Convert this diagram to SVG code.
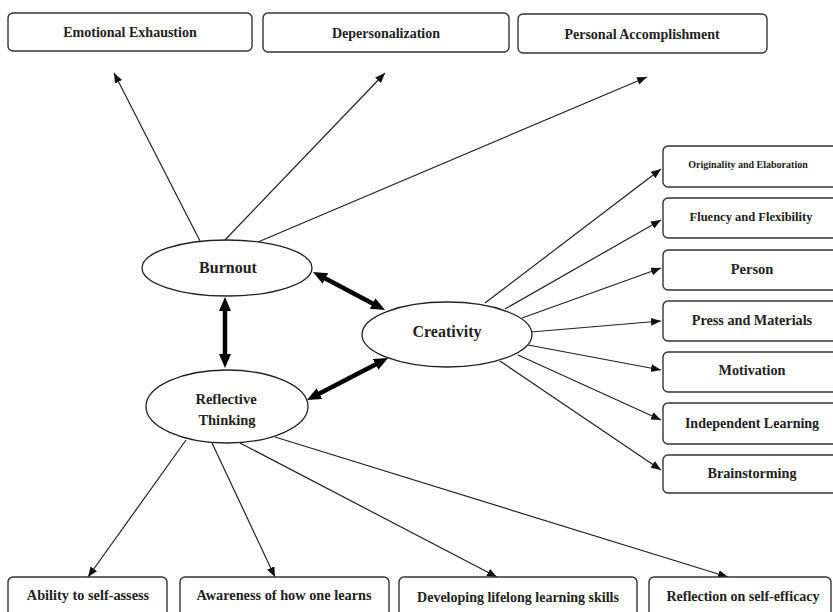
<svg xmlns="http://www.w3.org/2000/svg" width="833" height="612" viewBox="0 0 833 612">
<style>
.box{fill:#fff;stroke:#333;stroke-width:1.4}
.ell{fill:#fff;stroke:#222;stroke-width:1.3}
.t{font-family:"Liberation Serif","Times New Roman",serif;font-weight:bold;fill:#222;text-anchor:middle;dominant-baseline:central}
.ln{stroke:#222;stroke-width:1.2;fill:none;marker-end:url(#ah)}
.thick{stroke:#000;stroke-width:4.5;fill:none;marker-start:url(#th);marker-end:url(#th)}
</style>
<defs>
<marker id="ah" markerUnits="userSpaceOnUse" markerWidth="11" markerHeight="9" refX="10" refY="4" orient="auto" viewBox="0 0 11 9">
<path d="M0,0 L10,4 L0,8 z" fill="#111"/>
</marker>
<marker id="th" markerUnits="userSpaceOnUse" markerWidth="15" markerHeight="13" refX="1" refY="6" orient="auto-start-reverse" viewBox="0 0 15 13">
<path d="M0,0 L14,6 L0,12 z" fill="#000"/>
</marker>
</defs>
<rect width="833" height="612" fill="#fff"/>

<g id="connectors">
<line class="ln" x1="200" y1="241" x2="114" y2="73"/>
<line class="ln" x1="224" y1="241" x2="385" y2="73"/>
<line class="ln" x1="258" y1="242" x2="647" y2="77"/>
<line class="ln" x1="485" y1="303" x2="661" y2="169"/>
<line class="ln" x1="505" y1="309" x2="661" y2="220"/>
<line class="ln" x1="522" y1="318" x2="661" y2="268"/>
<line class="ln" x1="531" y1="332" x2="661" y2="321"/>
<line class="ln" x1="528" y1="345" x2="661" y2="370"/>
<line class="ln" x1="518" y1="355" x2="661" y2="420"/>
<line class="ln" x1="500" y1="361" x2="661" y2="470"/>
<line class="ln" x1="186" y1="440" x2="88" y2="577"/>
<line class="ln" x1="212" y1="443" x2="275" y2="577"/>
<line class="ln" x1="240" y1="443" x2="497" y2="577"/>
<line class="ln" x1="275" y1="437" x2="728" y2="577"/>
<line class="thick" x1="225" y1="310" x2="225" y2="355"/>
<line class="thick" x1="324.5" y1="278.1" x2="373.5" y2="303.9"/>
<line class="thick" x1="318.5" y1="394" x2="376.5" y2="364"/>
</g>

<g id="emotional-exhaustion"><rect class="box" x="8" y="13" width="244" height="38" rx="5"/><text class="t" x="130" y="32" font-size="14">Emotional Exhaustion</text></g>
<g id="depersonalization"><rect class="box" x="263" y="13" width="246" height="39" rx="5"/><text class="t" x="386" y="33" font-size="14">Depersonalization</text></g>
<g id="personal-accomplishment"><rect class="box" x="518" y="14" width="249" height="39" rx="5"/><text class="t" x="642" y="34" font-size="14">Personal Accomplishment</text></g>

<g id="burnout"><ellipse class="ell" cx="227" cy="268" rx="85" ry="28"/><text class="t" x="228" y="267" font-size="16">Burnout</text></g>
<g id="creativity"><ellipse class="ell" cx="447" cy="334.5" rx="85" ry="32.5"/><text class="t" x="447" y="331" font-size="16">Creativity</text></g>
<g id="reflective-thinking"><ellipse class="ell" cx="227" cy="406.5" rx="81" ry="36.5"/><text class="t" x="226" y="399" font-size="14.5">Reflective</text><text class="t" x="227" y="420" font-size="14.5">Thinking</text></g>

<g id="originality"><rect class="box" x="663" y="146" width="182" height="41" rx="5"/><text class="t" x="748" y="164" font-size="10">Originality and Elaboration</text></g>
<g id="fluency"><rect class="box" x="663" y="198" width="182" height="40" rx="5"/><text class="t" x="751" y="217" font-size="12.5">Fluency and Flexibility</text></g>
<g id="person"><rect class="box" x="663" y="250" width="182" height="40" rx="5"/><text class="t" x="752" y="269" font-size="14.5">Person</text></g>
<g id="press"><rect class="box" x="663" y="301" width="182" height="40" rx="5"/><text class="t" x="752" y="320" font-size="14.2">Press and Materials</text></g>
<g id="motivation"><rect class="box" x="663" y="352" width="182" height="40" rx="5"/><text class="t" x="752" y="370" font-size="14.2">Motivation</text></g>
<g id="independent-learning"><rect class="box" x="663" y="403" width="182" height="41" rx="5"/><text class="t" x="752" y="423" font-size="14">Independent Learning</text></g>
<g id="brainstorming"><rect class="box" x="663" y="455" width="182" height="38" rx="5"/><text class="t" x="752" y="473" font-size="14.2">Brainstorming</text></g>

<g id="ability"><rect class="box" x="8" y="577" width="159" height="45" rx="5"/><text class="t" x="88" y="595" font-size="14.3">Ability to self-assess</text></g>
<g id="awareness"><rect class="box" x="180" y="577" width="209" height="45" rx="5"/><text class="t" x="284" y="595" font-size="14.3">Awareness of how one learns</text></g>
<g id="developing"><rect class="box" x="399" y="577" width="238" height="45" rx="5"/><text class="t" x="518" y="597" font-size="14">Developing lifelong learning skills</text></g>
<g id="reflection"><rect class="box" x="649" y="577" width="182" height="45" rx="5"/><text class="t" x="743" y="596" font-size="14">Reflection on self-efficacy</text></g>
</svg>
